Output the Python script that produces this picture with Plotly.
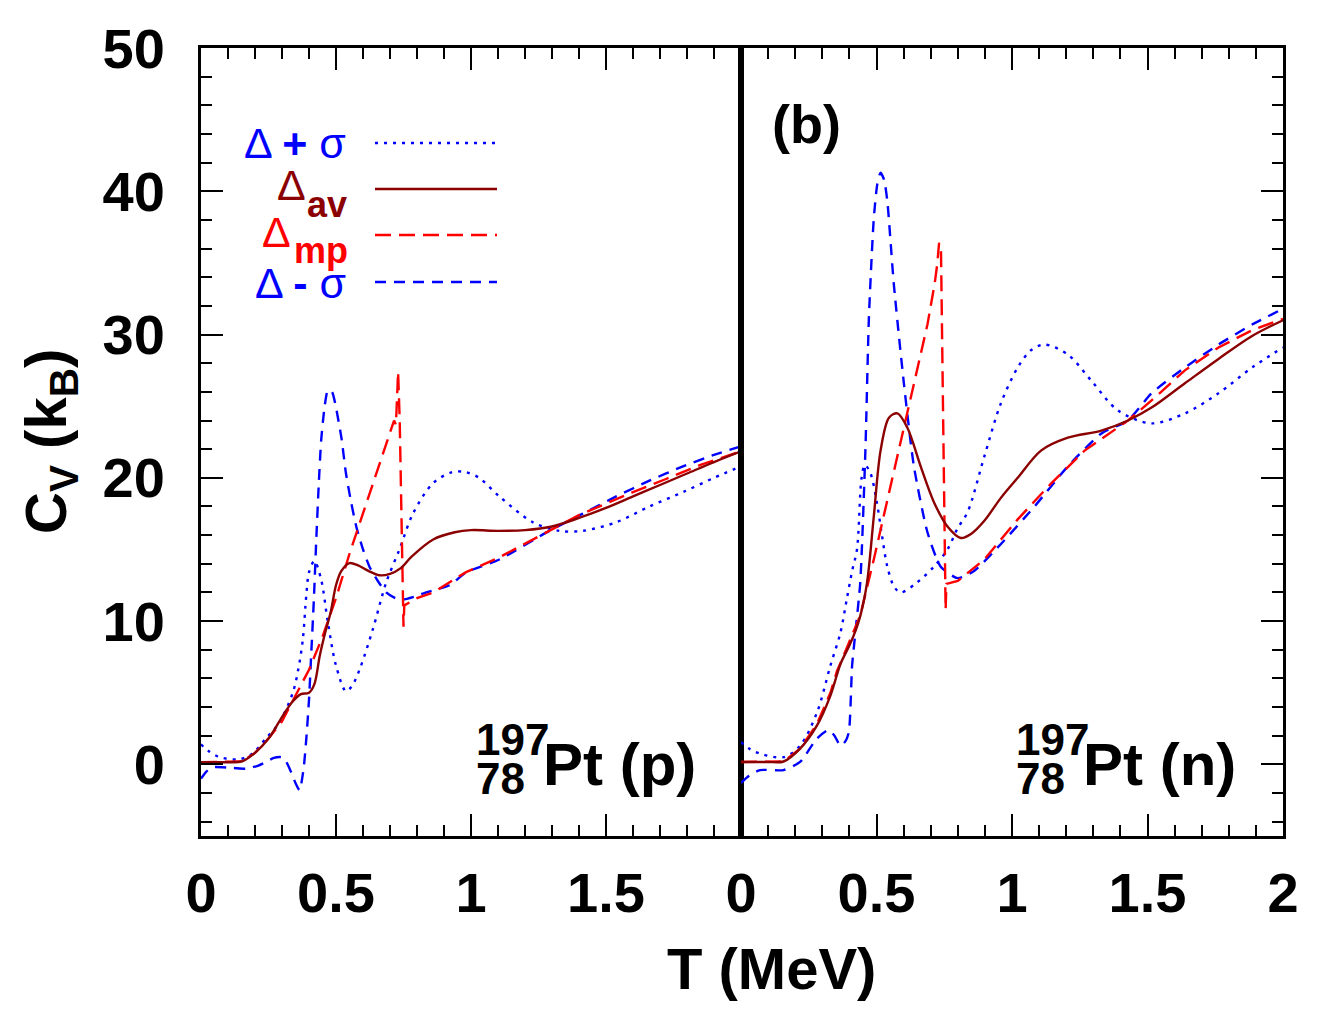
import plotly.graph_objects as go

# ---------------- data ----------------
# Left panel: 197Pt (p)
T_av_p = [0, 0.05, 0.10, 0.15, 0.20, 0.25, 0.30, 0.34, 0.37, 0.40, 0.42, 0.44, 0.46, 0.48, 0.50, 0.52, 0.55, 0.58, 0.62, 0.66, 0.70, 0.74, 0.78, 0.86, 0.94, 1.00, 1.10, 1.20, 1.30, 1.40, 1.50, 1.60, 1.70, 1.80, 1.90, 2.00]
C_av_p = [0.15, 0.15, 0.15, 0.2, 0.8, 1.8, 3.3, 4.4, 4.9, 5.0, 5.6, 7.6, 9.2, 10.6, 12.5, 13.5, 14.05, 13.9, 13.5, 13.2, 13.3, 13.7, 14.5, 15.7, 16.2, 16.35, 16.3, 16.35, 16.6, 17.2, 17.9, 18.7, 19.5, 20.3, 21.1, 21.85]

T_mp_p = [0, 0.05, 0.10, 0.15, 0.20, 0.25, 0.30, 0.35, 0.40, 0.45, 0.50, 0.55, 0.60, 0.65, 0.70, 0.715, 0.722, 0.730, 0.736, 0.750, 0.753, 0.80, 0.86, 0.98, 1.10, 1.23, 1.30, 1.40, 1.50, 1.60, 1.72, 1.85, 2.00]
C_mp_p = [0.15, 0.15, 0.15, 0.2, 0.8, 1.8, 3.0, 4.8, 6.6, 8.9, 11.6, 14.7, 17.5, 20.3, 23.2, 24.0, 23.7, 27.4, 24.0, 9.6, 11.1, 11.6, 12.0, 13.4, 14.4, 15.7, 16.4, 17.4, 18.2, 19.0, 19.9, 20.9, 21.85]

T_ps_p = [0, 0.03, 0.07, 0.14, 0.19, 0.24, 0.29, 0.34, 0.36, 0.377, 0.39, 0.40, 0.42, 0.445, 0.47, 0.50, 0.537, 0.56, 0.587, 0.636, 0.686, 0.735, 0.785, 0.858, 0.93, 0.98, 1.03, 1.105, 1.229, 1.327, 1.414, 1.538, 1.661, 1.785, 1.90, 2.00]
C_ps_p = [1.4, 0.9, 0.5, 0.35, 0.75, 1.8, 2.9, 5.0, 6.6, 8.7, 11.8, 13.4, 14.2, 12.9, 9.9, 6.9, 5.1, 5.5, 6.6, 9.4, 12.7, 15.0, 17.5, 19.6, 20.4, 20.4, 20.0, 18.7, 16.9, 16.3, 16.3, 16.9, 18.0, 19.0, 20.0, 20.8]

T_ms_p = [0, 0.02, 0.044, 0.118, 0.167, 0.21, 0.24, 0.27, 0.297, 0.315, 0.335, 0.35, 0.365, 0.38, 0.39, 0.40, 0.408, 0.418, 0.427, 0.436, 0.445, 0.458, 0.47, 0.485, 0.50, 0.52, 0.537, 0.556, 0.575, 0.60, 0.624, 0.655, 0.686, 0.72, 0.747, 0.79, 0.834, 0.92, 0.982, 1.105, 1.29, 1.414, 1.538, 1.661, 1.785, 1.90, 2.00]
C_ms_p = [-1.0, -0.5, -0.2, -0.25, -0.3, -0.1, 0.16, 0.45, 0.5, 0.2, -0.6, -1.3, -1.8, -0.3, 1.8, 4.5, 7.6, 11.5, 15.7, 19.5, 22.6, 25.0, 26.1, 26.0, 24.9, 22.8, 20.3, 18.3, 16.6, 15.0, 13.8, 12.8, 12.0, 11.6, 11.5, 11.7, 12.0, 12.5, 13.4, 14.3, 16.3, 17.5, 18.7, 19.8, 20.8, 21.6, 22.2]

# Right panel: 197Pt (n)
T_av_n = [0, 0.05, 0.10, 0.157, 0.218, 0.28, 0.33, 0.367, 0.40, 0.416, 0.44, 0.465, 0.49, 0.515, 0.546, 0.577, 0.614, 0.663, 0.712, 0.762, 0.811, 0.85, 0.898, 0.959, 1.021, 1.107, 1.206, 1.33, 1.428, 1.515, 1.638, 1.762, 1.886, 2.0]
C_av_n = [0.17, 0.17, 0.17, 0.2, 1.1, 2.7, 4.8, 7.0, 8.3, 9.0, 10.35, 12.67, 17.3, 21.9, 24.2, 24.5, 23.5, 20.8, 18.3, 16.6, 15.8, 16.1, 17.0, 18.6, 20.0, 21.9, 22.8, 23.3, 24.0, 24.9, 26.6, 28.3, 29.9, 31.0]

T_mp_n = [0, 0.05, 0.10, 0.157, 0.218, 0.28, 0.33, 0.354, 0.379, 0.40, 0.44, 0.49, 0.54, 0.589, 0.638, 0.688, 0.715, 0.724, 0.731, 0.738, 0.755, 0.758, 0.80, 0.898, 1.021, 1.144, 1.268, 1.428, 1.515, 1.638, 1.762, 1.886, 2.0]
C_mp_n = [0.17, 0.17, 0.17, 0.2, 1.1, 2.8, 5.0, 6.5, 7.6, 8.6, 10.4, 14.3, 18.5, 22.6, 26.6, 30.7, 33.6, 34.9, 36.4, 35.8, 10.8, 12.6, 12.8, 14.3, 17.1, 19.6, 21.9, 24.0, 25.4, 27.5, 29.1, 30.3, 31.1]

T_ps_n = [0, 0.03, 0.07, 0.157, 0.218, 0.28, 0.33, 0.367, 0.39, 0.41, 0.428, 0.445, 0.457, 0.478, 0.502, 0.52, 0.54, 0.565, 0.589, 0.65, 0.712, 0.762, 0.80, 0.836, 0.898, 0.959, 1.021, 1.07, 1.12, 1.206, 1.292, 1.391, 1.515, 1.638, 1.762, 1.886, 2.0]
C_ps_n = [1.55, 1.1, 0.75, 0.5, 1.3, 3.6, 6.9, 9.2, 11.5, 13.5, 15.0, 20.0, 20.9, 20.3, 18.2, 16.0, 13.8, 12.4, 12.0, 12.7, 13.8, 15.0, 16.5, 17.6, 21.5, 25.2, 27.7, 28.9, 29.3, 28.6, 26.8, 24.7, 23.8, 24.5, 25.9, 27.7, 29.1]

T_ms_n = [0, 0.03, 0.07, 0.157, 0.218, 0.28, 0.323, 0.345, 0.367, 0.385, 0.398, 0.41, 0.422, 0.44, 0.459, 0.472, 0.49, 0.503, 0.515, 0.528, 0.54, 0.564, 0.601, 0.638, 0.688, 0.737, 0.799, 0.86, 0.96, 1.083, 1.206, 1.33, 1.428, 1.515, 1.638, 1.762, 1.886, 2.0]
C_ms_n = [-1.3, -0.8, -0.4, -0.4, 0.17, 1.8, 2.4, 2.0, 1.3, 1.6, 2.25, 6.9, 9.2, 12.67, 21.9, 31.2, 38.1, 40.5, 41.3, 40.8, 39.3, 33.5, 26.6, 20.8, 16.2, 13.8, 13.0, 13.5, 15.4, 18.0, 20.8, 23.1, 24.0, 25.9, 27.7, 29.3, 30.7, 31.8]

x_ticks_left = [0, 0.5, 1, 1.5]
x_ticks_right = [0, 0.5, 1, 1.5, 2]
y_ticks = [0, 10, 20, 30, 40, 50]

# ---------------- styling ----------------
BLUE = "#0000ff"
DRED = "#8b0000"
RED = "#ff0000"
FONT = "Liberation Sans, Arial, sans-serif"
DOT = "3px,6px"
BDASH = "11px,8px"
RDASH = "16px,8px"
LW = 2.4
SM = 0.9

W, H = 1337, 1013
ML, MR, MT, MB = 201, 54, 48, 177
PW, PH = W - ML - MR, H - MT - MB
SPLIT = (741 - ML) / PW

fig = go.Figure()


def add_set(xa, ya, tps, cps, tav, cav, tmp, cmp, tms, cms):
    fig.add_trace(go.Scatter(x=tps, y=cps, mode="lines", xaxis=xa, yaxis=ya,
                             line=dict(color=BLUE, width=LW, dash=DOT, shape="spline", smoothing=SM),
                             showlegend=False))
    fig.add_trace(go.Scatter(x=tms, y=cms, mode="lines", xaxis=xa, yaxis=ya,
                             line=dict(color=BLUE, width=LW, dash=BDASH, shape="spline", smoothing=0.6),
                             showlegend=False))
    fig.add_trace(go.Scatter(x=tmp, y=cmp, mode="lines", xaxis=xa, yaxis=ya,
                             line=dict(color=RED, width=LW, dash=RDASH),
                             showlegend=False))
    fig.add_trace(go.Scatter(x=tav, y=cav, mode="lines", xaxis=xa, yaxis=ya,
                             line=dict(color=DRED, width=LW, shape="spline", smoothing=SM),
                             showlegend=False))


add_set("x", "y", T_ps_p, C_ps_p, T_av_p, C_av_p, T_mp_p, C_mp_p, T_ms_p, C_ms_p)
add_set("x2", "y2", T_ps_n, C_ps_n, T_av_n, C_av_n, T_mp_n, C_mp_n, T_ms_n, C_ms_n)

tickfont = dict(family=FONT, size=56, color="black", weight="bold")
minor_x = dict(dtick=0.1, ticks="inside", ticklen=11, tickwidth=2, tickcolor="black", showgrid=False)
minor_y = dict(dtick=2, ticks="inside", ticklen=11, tickwidth=2, tickcolor="black", showgrid=False)
common_x = dict(range=[0, 2], ticks="inside", ticklen=22, tickwidth=2, tickcolor="black",
                showline=True, linewidth=3, linecolor="black", mirror="ticks",
                showgrid=False, zeroline=False, tickfont=tickfont, ticklabelstandoff=6,
                minor=minor_x)
common_y = dict(range=[-5, 50], tickvals=y_ticks, ticks="inside", ticklen=22, tickwidth=2, tickcolor="black",
                showline=True, linewidth=3, linecolor="black", mirror=True,
                showgrid=False, zeroline=False, tickfont=tickfont, ticklabelstandoff=22,
                minor=minor_y)

fig.update_layout(
    width=W, height=H, margin=dict(l=ML, r=MR, t=MT, b=MB),
    paper_bgcolor="white", plot_bgcolor="white",
    xaxis=dict(domain=[0, SPLIT], tickvals=x_ticks_left, ticktext=[str(v) for v in x_ticks_left], anchor="y", **common_x),
    xaxis2=dict(domain=[SPLIT, 1], tickvals=x_ticks_right, ticktext=[str(v) for v in x_ticks_right], anchor="y2", **common_x),
    yaxis=dict(domain=[0, 1], anchor="x", side="left", **common_y),
    yaxis2=dict(domain=[0, 1], anchor="x2", side="right", showticklabels=False, **common_y),
)


def px2paper(px, py):
    return (px - ML) / PW, (H - MB - py) / PH


def ann(text, px, py, size, color="black", xanchor="center", yanchor="middle", bold=True, angle=0):
    xp, yp = px2paper(px, py)
    fig.add_annotation(text=text, x=xp, y=yp, xref="paper", yref="paper", showarrow=False,
                       xanchor=xanchor, yanchor=yanchor, textangle=angle, borderpad=0,
                       font=dict(family=FONT, size=size, color=color, weight="bold" if bold else "normal"))


# axis titles
ann("T (MeV)", 771, 968, 58)
ann("C<sub>V</sub> (k<sub>B</sub>)", 50, 442, 58, angle=-90)

# panel tag
ann("(b)", 806, 124, 54)

# nuclide labels
for x0, tag in [(475, "(p)"), (1015, "(n)")]:
    ann("197", x0, 739, 44, xanchor="left")
    ann("78", x0, 778, 44, xanchor="left")
    ann("Pt " + tag, x0 + 67, 764, 60, xanchor="left")

# legend text
ann("Δ <b>+</b> σ", 347, 143, 43, color=BLUE, xanchor="right", bold=False)
ann("Δ", 307, 185, 43, color=DRED, xanchor="right", bold=False)
ann("av", 306, 204, 36, color=DRED, xanchor="left")
ann("Δ", 292, 232, 43, color=RED, xanchor="right", bold=False)
ann("mp", 293, 251, 36, color=RED, xanchor="left")
ann("Δ <b>-</b> σ", 347, 283, 43, color=BLUE, xanchor="right", bold=False)

# legend line samples
for py, col, dash in [(143, BLUE, DOT), (189, DRED, "solid"), (235, RED, RDASH), (282, BLUE, BDASH)]:
    x0, y0 = px2paper(375, py)
    x1, _ = px2paper(497, py)
    fig.add_shape(type="line", xref="paper", yref="paper", x0=x0, x1=x1, y0=y0, y1=y0,
                  line=dict(color=col, width=LW, dash=dash))

fig.write_html("out.html")
